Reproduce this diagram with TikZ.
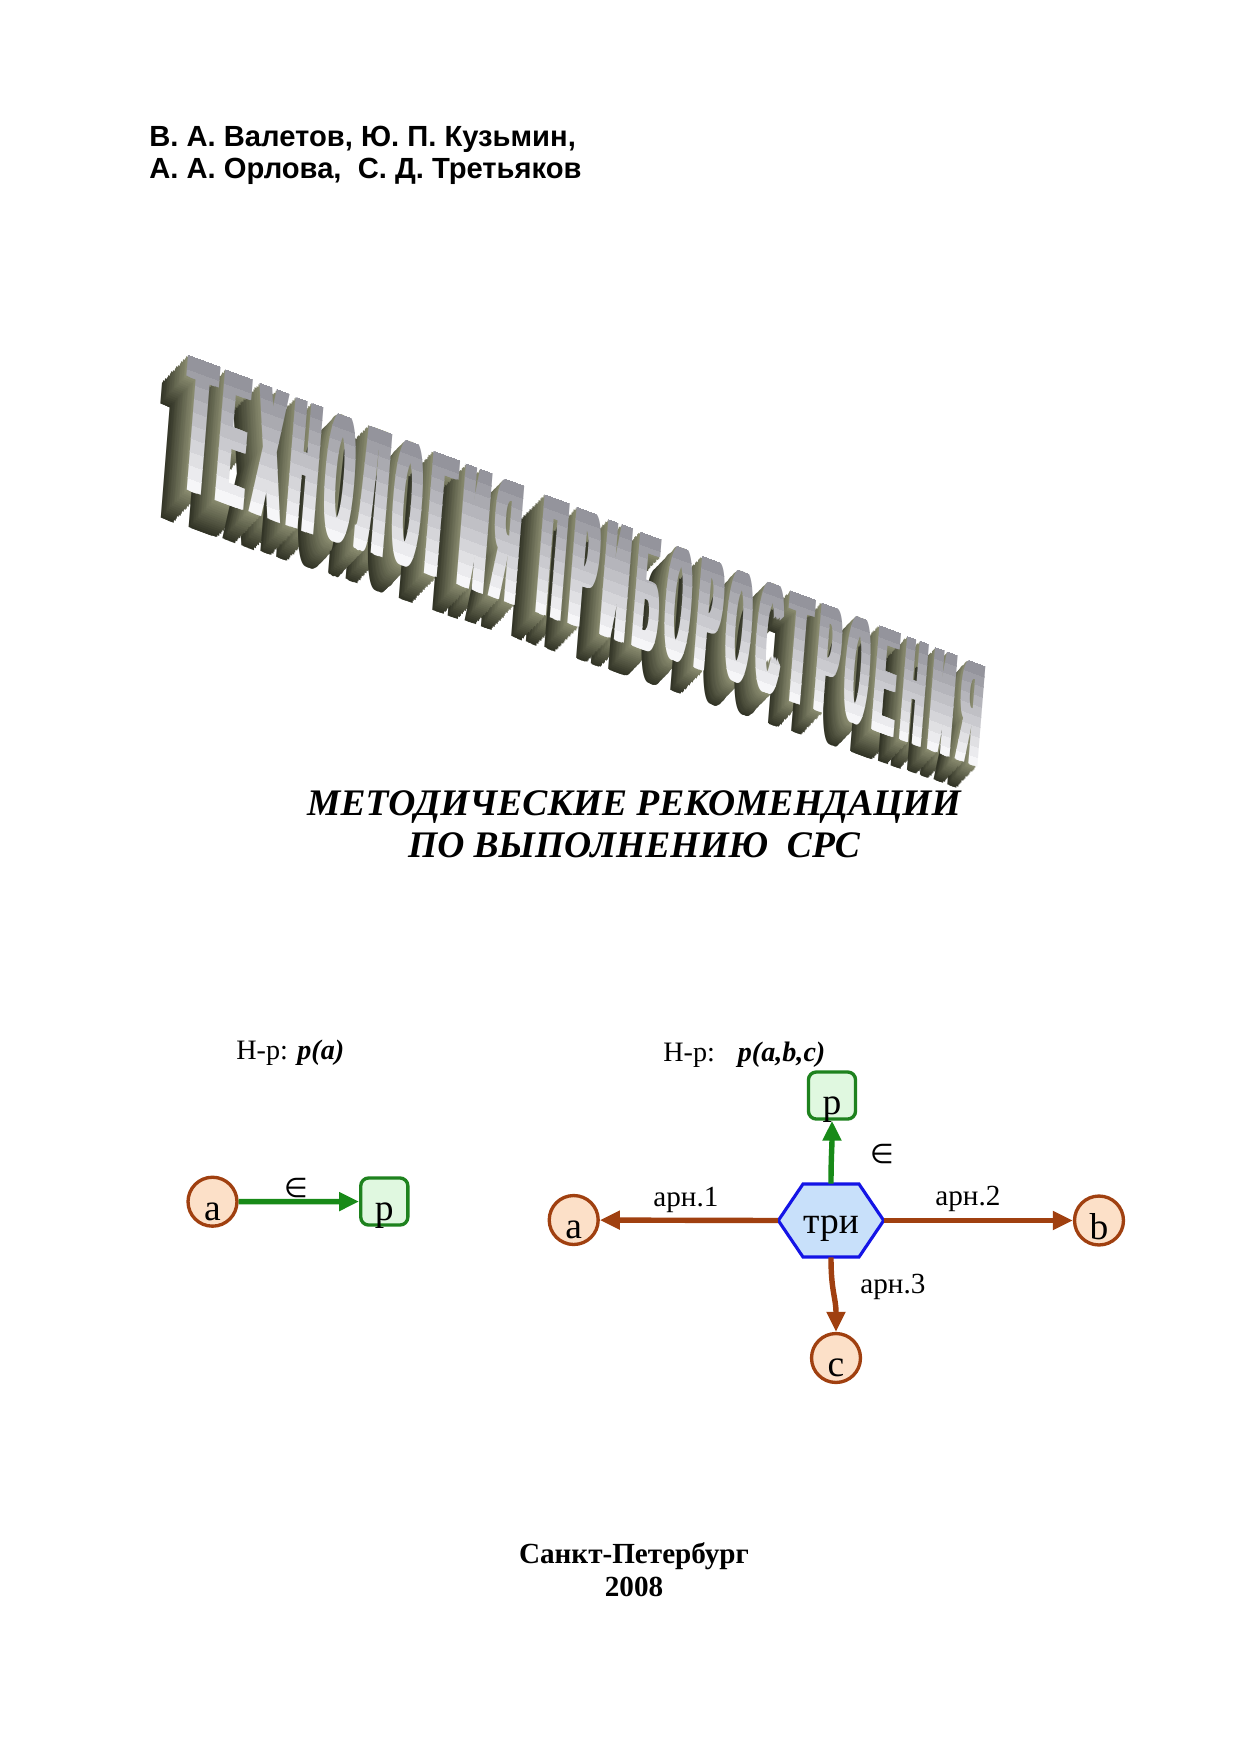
\documentclass[tikz,border=0pt]{standalone}
\usepackage{fontspec}
\usepackage{graphicx}
\setmainfont{Liberation Serif}
\newfontfamily\arialfont{Liberation Sans}
\newfontfamily\symfont{DejaVu Sans}
\usetikzlibrary{arrows.meta}
\newdimen\pxu \pxu=0.48pt
\newcommand\smearit[1]{\rlap{#1}\kern0.045em\rlap{#1}\kern0.045em\rlap{#1}\kern0.045em\rlap{#1}\kern0.045em#1}
\definecolor{brownline}{RGB}{160,64,16}
\definecolor{peach}{RGB}{252,224,200}
\definecolor{greenline}{RGB}{24,138,24}
\definecolor{greenborder}{RGB}{30,130,30}
\definecolor{greenfill}{RGB}{224,248,224}
\definecolor{hexblue}{RGB}{20,20,230}
\definecolor{hexfill}{RGB}{200,224,250}
\definecolor{olivedark}{RGB}{50,52,38}
\definecolor{olivelight}{RGB}{136,138,110}
\definecolor{facetop}{RGB}{148,148,156}
\definecolor{facebot}{RGB}{246,246,248}
\tikzset{
 circnode/.style={circle, draw=brownline, fill=peach, line width=1.6pt, minimum size=23.5pt, inner sep=0pt, text height=18.2pt, text depth=0pt, font=\fontsize{18}{18}\selectfont},
 boxnode/.style={rectangle, rounded corners=3.8pt, draw=greenborder, fill=greenfill, line width=1.6pt, minimum size=22.6pt, inner sep=0pt, text height=18.2pt, text depth=0pt, font=\fontsize{18}{18}\selectfont},
 hexnode/.style={rectangle, minimum width=50.6pt, minimum height=35pt, inner sep=0pt, text height=12pt, text depth=0pt, font=\fontsize{18}{18}\selectfont},
 hexshape/.style={draw=hexblue, fill=hexfill, line width=1.5pt, line join=miter},
 brownarrow/.style={draw=brownline, line width=2.6pt, -{Triangle[length=9.6pt,width=8.6pt]}},
 greenarrow/.style={draw=greenline, line width=2.6pt, -{Triangle[length=9.6pt,width=8.6pt]}},
 edgelabel/.style={anchor=base west, inner sep=0pt, font=\fontsize{14}{14}\selectfont},
 elemlabel/.style={inner sep=0pt, font=\symfont\fontsize{13}{13}\selectfont},
 titlelabel/.style={anchor=base west, inner sep=0pt, font=\fontsize{13.5}{13.5}\selectfont},
 authorline/.style={anchor=base west, inner sep=0pt, font=\arialfont\bfseries\fontsize{14}{16}\selectfont},
 subline/.style={anchor=base, inner sep=0pt, font=\bfseries\itshape\fontsize{18}{20}\selectfont},
 cityline/.style={anchor=base, inner sep=0pt, font=\bfseries\fontsize{14}{16}\selectfont},
 waletter/.style={anchor=south west, inner sep=0pt, transform shape, font=\arialfont\bfseries},
}
\begin{document}
\begin{tikzpicture}[x=0.48pt,y=0.48pt]
\fill[white] (0,0) rectangle (1241,-1755);
\useasboundingbox (0,0) rectangle (1241,-1755);

% authors
\node[authorline] (auth1) at (149,-146) {В. А. Валетов, Ю. П. Кузьмин,};
\node[authorline] (auth2) at (149,-178) {А. А. Орлова,\ \ С. Д. Третьяков};

% WordArt title: extrusion
\foreach \ch [count=\i] in {Т,Е,Х,Н,О,Л,О,Г,И,Я,П,Р,И,Б,О,Р,О,С,Т,Р,О,Е,Н,И,Я} {
  \pgfmathsetmacro\nn{\i-1+0.4*(\i>10)}
  \pgfmathsetmacro\uu{3300*(1-exp(-0.011*\nn))}
  \pgfmathsetmacro\hh{132-0.04*\uu}
  \pgfmathsetmacro\ww{0.25*\hh}
  \pgfmathsetmacro\bx{177+\uu}
  \pgfmathsetmacro\by{487+0.35*\uu}
  \foreach \k in {16,...,1} {
    \pgfmathsetmacro\ox{-0.0125*\k*\hh}
    \pgfmathsetmacro\oy{-0.013*\k*\hh}
    \pgfmathsetmacro\mx{(\k-1)*100/15}
    \begin{scope}[cm={1,-0.37,0.08,1,(\bx+\ox,-\by+\oy)}]
      \node[waletter, text=olivedark!\mx!olivelight] (ext\i-\k) at (0,0) {\resizebox{\ww\pxu}{\hh\pxu}{\smearit{\ch}}};
    \end{scope}
  }
}
% WordArt title: front faces
\foreach \ch [count=\i] in {Т,Е,Х,Н,О,Л,О,Г,И,Я,П,Р,И,Б,О,Р,О,С,Т,Р,О,Е,Н,И,Я} {
  \pgfmathsetmacro\nn{\i-1+0.4*(\i>10)}
  \pgfmathsetmacro\uu{3300*(1-exp(-0.011*\nn))}
  \pgfmathsetmacro\hh{132-0.04*\uu}
  \pgfmathsetmacro\ww{0.25*\hh}
  \pgfmathsetmacro\bx{177+\uu}
  \pgfmathsetmacro\by{487+0.35*\uu}
  \foreach \bb in {0,...,9} {
    \pgfmathsetmacro\mb{\bb*100/9}
    \begin{scope}[cm={1,-0.37,0.08,1,(\bx,-\by)}]
      \clip (-10,\bb*\hh/10-0.5) rectangle (\ww+30,\bb*\hh/10+\hh/10+0.5);
      \node[waletter, text=facetop!\mb!facebot] (fr\i-\bb) at (0,0) {\resizebox{\ww\pxu}{\hh\pxu}{\smearit{\ch}}};
    \end{scope}
  }
}

% subtitle
\node[subline] (sub1) at (634,-815) {МЕТОДИЧЕСКИЕ РЕКОМЕНДАЦИИ};
\node[subline] (sub2) at (634,-857) {ПО ВЫПОЛНЕНИЮ\ \ СРС};

% left diagram
\node[titlelabel] (ex1) at (236,-1059) {Н-р: \textbf{\textit{p(a)}}};
\node[circnode] (a1) at (212.5,-1201.7) {a};
\node[boxnode] (p1) at (384.3,-1201.5) {p};
\draw[greenarrow] (a1) -- (p1);
\node[elemlabel] (e1) at (296,-1188) {∈};

% right diagram
\node[titlelabel] (ex2) at (663,-1061) {Н-р:\hspace{11pt}\textbf{\textit{p(a,b,c)}}};
\coordinate (hc) at (831,-1220.5);
\draw[hexshape] ([xshift=-52.7*0.48pt]hc) -- ++(24.7,36.5) -- ++(56,0) -- ++(24.7,-36.5) -- ++(-24.7,-36.5) -- ++(-56,0) -- cycle;
\node[hexnode] (tri) at (hc) {три};
\node[boxnode] (p2) at (832,-1095.5) {p};
\node[circnode] (a2) at (573.7,-1220) {a};
\node[circnode] (b) at (1099,-1220.5) {b};
\node[circnode] (c) at (836,-1358) {c};
\draw[greenarrow] (tri.north) .. controls +(0,25) and +(0,-25) .. (p2.south);
\draw[brownarrow] (tri.west) -- (a2);
\draw[brownarrow] (tri.east) -- (b);
\draw[brownarrow] (tri.south) .. controls +(0,-35) and +(0,35) .. (c.north);
\node[edgelabel] (l1) at (653,-1206) {арн.1};
\node[edgelabel] (l2) at (935,-1205) {арн.2};
\node[edgelabel] (l3) at (860,-1293) {арн.3};
\node[elemlabel] (e2) at (882,-1154) {∈};

% city and year
\node[cityline] (city) at (634,-1563) {Санкт-Петербург};
\node[cityline] (year) at (634,-1596) {2008};
\end{tikzpicture}
\end{document}
